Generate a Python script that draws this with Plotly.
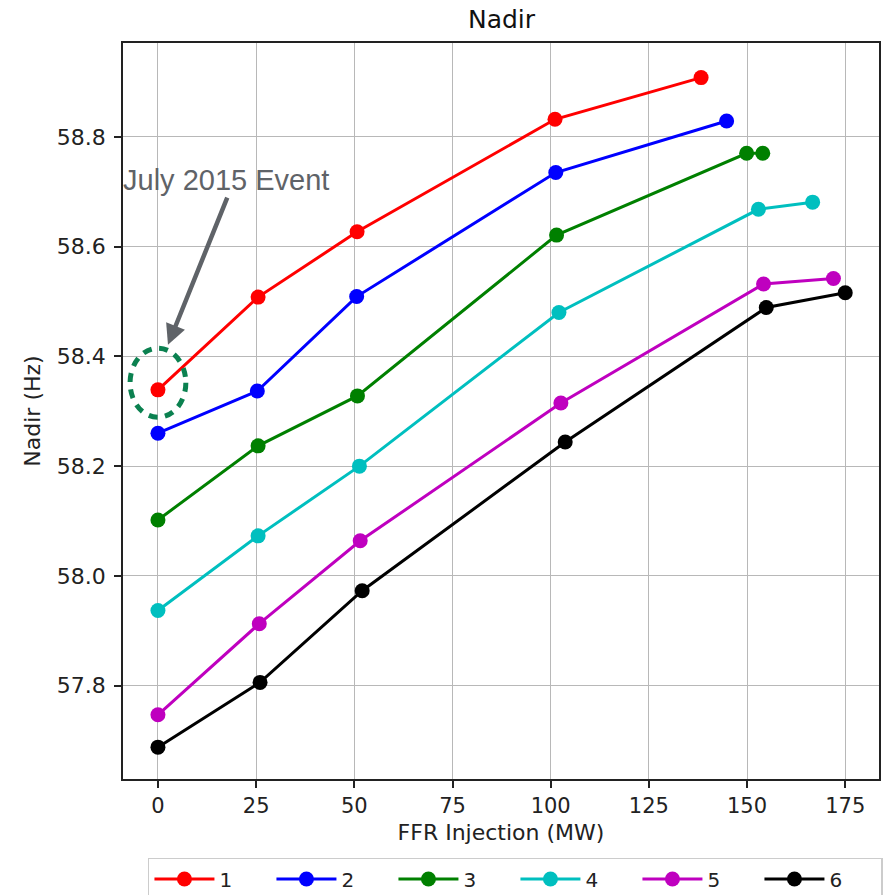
import plotly.graph_objects as go

# ---- data ----
series_names = ["1", "2", "3", "4", "5", "6"]
x1 = [0, 25.5, 50.7, 101.1, 138.3]
y1 = [58.339, 58.508, 58.627, 58.832, 58.908]
x2 = [0, 25.3, 50.6, 101.3, 144.8]
y2 = [58.260, 58.337, 58.509, 58.735, 58.829]
x3 = [0, 25.5, 50.8, 101.5, 149.9, 154.0]
y3 = [58.102, 58.237, 58.328, 58.621, 58.770, 58.770]
x4 = [0, 25.5, 51.3, 102.1, 152.9, 166.7]
y4 = [57.937, 58.073, 58.200, 58.480, 58.668, 58.681]
x5 = [0, 25.8, 51.5, 102.6, 154.2, 172.0]
y5 = [57.747, 57.913, 58.064, 58.315, 58.532, 58.542]
x6 = [0, 26.0, 52.0, 103.7, 154.9, 175.0]
y6 = [57.688, 57.806, 57.973, 58.244, 58.489, 58.516]

x_ticks = [0, 25, 50, 75, 100, 125, 150, 175]
y_ticks = [57.8, 58.0, 58.2, 58.4, 58.6, 58.8]

colors = ["#ff0000", "#0000ff", "#008000", "#00bfbf", "#bf00bf", "#000000"]
xs = [x1, x2, x3, x4, x5, x6]
ys = [y1, y2, y3, y4, y5, y6]

fig = go.Figure()
for name, xv, yv, c in zip(series_names, xs, ys, colors):
    fig.add_trace(go.Scatter(
        x=xv, y=yv, name=name, mode="lines+markers",
        line=dict(color=c, width=3),
        marker=dict(color=c, size=15),
    ))

xtick_font = dict(family="DejaVu Sans", size=21, color="#222222")
ytick_font = dict(family="DejaVu Sans", size=22, color="#222222")
title_font = dict(family="DejaVu Sans", size=22, color="#222222")

fig.update_layout(
    width=890, height=895,
    margin=dict(l=123, r=11, t=43, b=116, autoexpand=False),
    paper_bgcolor="white", plot_bgcolor="white",
    title=dict(text="Nadir", x=0.5635, xanchor="center", y=0.9788, yanchor="middle",
               font=dict(family="DejaVu Sans", size=25, color="#111111")),
    showlegend=True,
    legend=dict(orientation="h", x=0.033, xanchor="left", y=-0.1073, yanchor="top",
                bordercolor="#cccccc", borderwidth=1.5, bgcolor="white",
                font=dict(family="DejaVu Sans", size=20, color="#222222"),
                entrywidth=47, entrywidthmode="pixels", itemwidth=60),
)

fig.update_xaxes(
    range=[-8.9, 183.6], tickvals=x_ticks, ticktext=[str(v) for v in x_ticks],
    showgrid=True, gridcolor="#b8b8b8", gridwidth=1.2,
    showline=True, linecolor="#222222", linewidth=1.5, mirror=True,
    ticks="outside", ticklen=7, tickwidth=1.5, tickcolor="#222222",
    tickfont=xtick_font, zeroline=False,
    title=dict(text="FFR Injection (MW)", font=title_font, standoff=8),
)
fig.update_yaxes(
    range=[57.630, 58.971], tickvals=y_ticks, ticktext=[f"{v:.1f}" for v in y_ticks],
    showgrid=True, gridcolor="#b8b8b8", gridwidth=1.2,
    showline=True, linecolor="#222222", linewidth=1.5, mirror=True,
    ticks="outside", ticklen=7, tickwidth=1.5, tickcolor="#222222",
    tickfont=ytick_font, zeroline=False, ticklabelstandoff=4,
    title=dict(text="Nadir (Hz)", font=title_font, standoff=10),
)

# highlight around the July 2015 event point (series 1, first point)
cx, cy = x1[0], y1[0]
fig.add_shape(type="circle", xref="x", yref="y",
              x0=cx - 7.1, x1=cx + 7.1, y0=cy + 0.013 - 0.063, y1=cy + 0.013 + 0.063,
              line=dict(color="#0b8150", width=5, dash="9px,7.5px"))

# arrow
fig.add_annotation(x=cx + 2.55, y=cy + 0.082, ax=cx + 17.8, ay=cy + 0.353,
                   xref="x", yref="y", axref="x", ayref="y",
                   text="", showarrow=True, arrowhead=2, arrowsize=0.9,
                   arrowwidth=4.5, arrowcolor="#5f6368")
fig.add_annotation(x=cx + 17.3, y=cy + 0.382, xref="x", yref="y",
                   text="July 2015 Event", showarrow=False,
                   font=dict(family="Liberation Sans", size=29, color="#5f6368"))

# remove the default 8px page margin so the figure fills the window exactly
fig.write_html("out.html", config={"displayModeBar": False},
               post_script="document.body.style.margin='0';document.body.style.overflow='hidden';")
